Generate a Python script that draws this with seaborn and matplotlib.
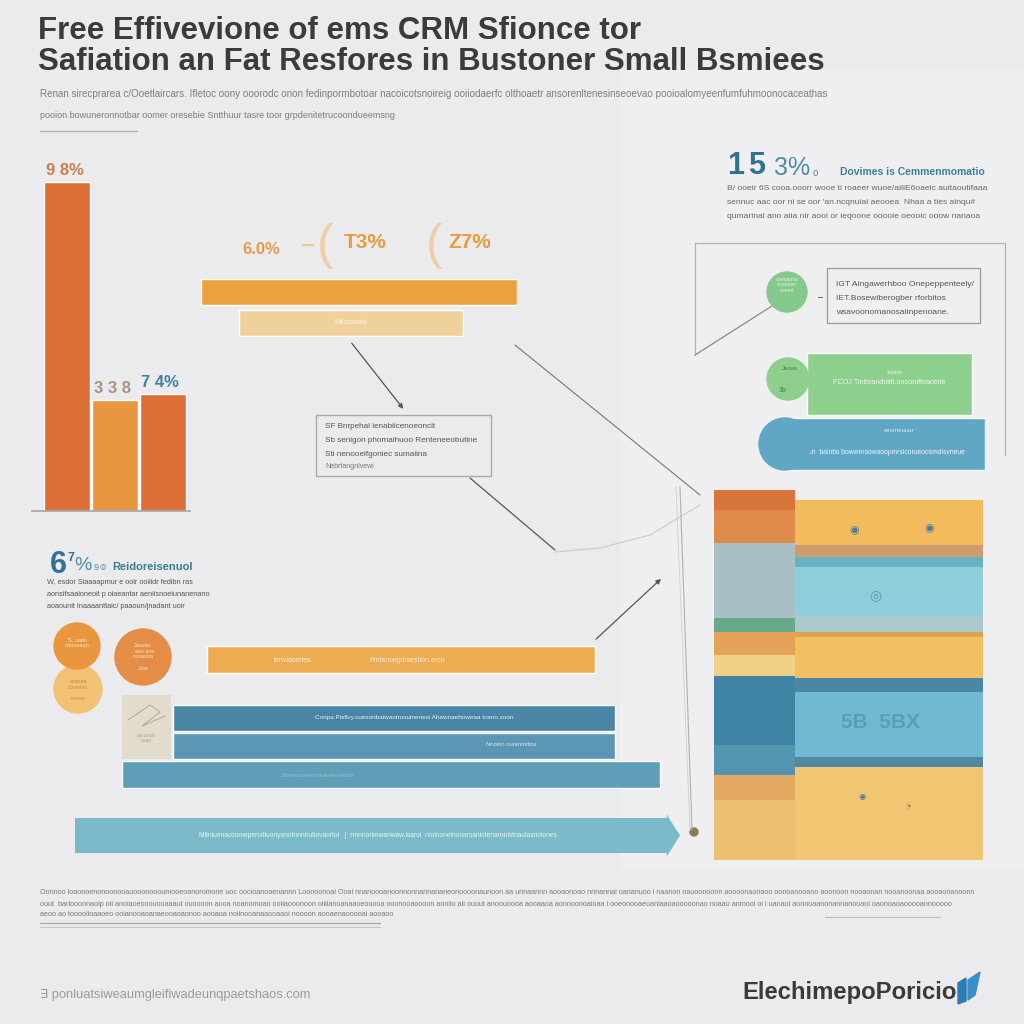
import numpy as np
import pandas as pd
import seaborn as sns
import matplotlib.pyplot as plt
from matplotlib.patches import Rectangle, Circle, FancyArrow, Polygon

# =========================
# Data
# =========================
W = H = 1024

# top-left column chart
top_labels = ["9 8%", "3 3 8", "7 4%"]
top_values = [98, 33, 35]

# middle floating bars (0-100 scale)
mid_names = ["Growth", "Mecomain"]
mid_start = [0, 12]
mid_end = [100, 83]
mid_callouts = ["6.0%", "T3%", "Z7%"]

# lower floating bars (0-100 scale)
low_names = ["tenvidocrles", "Conpa Pisflvy", "Neoine", "Sbrnoucerenrsaure"]
low_start = [21.8, 16.2, 16.2, 7.8]
low_end = [85.9, 89.3, 89.3, 96.7]
arrow_start = 0
arrow_end = 100

# right floating bars (0-100 scale)
right_names = ["FCOJ", "Conbgolistvoam"]
right_start = [21.6, 11.5]
right_end = [94.3, 100]

# right stacked panel, segments listed top to bottom
stack_left = [20, 33, 75, 14, 23, 21, 69, 30, 25, 60]
stack_right = [45, 12, 10, 48, 17, 5, 41, 14, 65, 10, 93]

# =========================
# Styles
# =========================
top_colors = ["#db6f35", "#e8963f", "#db6f35"]
top_label_colors = ["#c9804e", "#a89282", "#3f80a8"]
mid_colors = ["#eaa23f", "#f0d19b"]
low_colors = ["#eeac52", "#4a85a6", "#5b97b4", "#5e9fb7"]
arrow_color = "#7bbac9"
right_colors = ["#8dcf8d", "#5fa7c4"]
left_stack_colors = ["#d8753a", "#df8b4a", "#a9bec5", "#68a98b", "#e4a359",
                     "#f0cf86", "#3f84a4", "#5394ae", "#e3a963", "#edc071"]
right_stack_colors = ["#f1bb5e", "#cf9c70", "#66b3c6", "#8fcfd9", "#aac9cd",
                      "#e29f4e", "#f1c062", "#4b87a2", "#6fbad0", "#50889f", "#f1c673"]

TITLE = "#3b3b3b"
TEAL = "#2f7393"


def px_box(x0, y0, x1, y1):
    # pixel box (top-left origin) -> figure fraction rect
    return [x0 / W, 1 - y1 / H, (x1 - x0) / W, (y1 - y0) / H]


def clean(ax):
    ax.set_facecolor("none")
    ax.set_xticks([])
    ax.set_yticks([])
    ax.set_xlabel("")
    ax.set_ylabel("")
    for s in ax.spines.values():
        s.set_visible(False)


sns.set_theme(style="white")
plt.rcParams['font.family'] = ['Liberation Sans', 'DejaVu Sans']

fig = plt.figure(figsize=(10.24, 10.24), dpi=100)
fig.patch.set_facecolor("#ebebed")

# background panel
bg = fig.add_axes([0, 0, 1, 1], zorder=0)
bg.set_xlim(0, W)
bg.set_ylim(H, 0)
bg.axis("off")
bg.add_patch(Rectangle((620, 70), 404, 800, color="#efeff1", lw=0))

# =========================
# Top-left column chart
# =========================
ax1 = fig.add_axes(px_box(32, 170, 190, 511), zorder=2)
sns.barplot(x=top_labels, y=top_values, hue=top_labels, palette=top_colors,
            width=0.96, saturation=1, legend=False, ax=ax1)
ax1.set_xlim(-0.74, 2.57)
ax1.set_ylim(0, 101.6)
clean(ax1)
ax1.spines["bottom"].set_visible(True)
ax1.spines["bottom"].set_color("#a8a8a8")
for i, (lab, v) in enumerate(zip(top_labels, top_values)):
    ax1.text(i - 0.05, v + 1.2, lab, ha="center", va="bottom", fontsize=12,
             color=top_label_colors[i], fontweight="bold")

# =========================
# Middle floating bars
# =========================
ax2 = fig.add_axes(px_box(201, 277, 517, 338), zorder=2)
ax2.barh(range(len(mid_names)), np.subtract(mid_end, mid_start), left=mid_start,
         height=0.86, color=mid_colors)
ax2.set_xlim(0, 100)
ax2.set_ylim(1.5, -0.5)
clean(ax2)
ax2.text((mid_start[1] + mid_end[1]) / 2, 1, mid_names[1], ha="center", va="center",
         fontsize=5, color="#fbf3e6")

# =========================
# Lower floating bars + arrow
# =========================
ax3 = fig.add_axes(px_box(75, 640, 680, 860), zorder=2)
low_rows = [659.5, 718, 746, 774.5]
low_heights = [27, 26, 26, 27]
ax3.barh(low_rows, np.subtract(low_end, low_start), left=low_start,
         height=low_heights, color=low_colors)
ax3.add_patch(FancyArrow(arrow_start, 835.5, arrow_end - arrow_start, 0, width=35,
                         head_width=42, head_length=2.2, length_includes_head=True,
                         color=arrow_color, lw=0))
ax3.set_xlim(0, 100)
ax3.set_ylim(860, 640)
clean(ax3)
ax3.text(36, 660, "tenvidocrles", fontsize=5, color="#fdf0dc", ha="center", va="center")
ax3.text(55, 660, "Pmtsnoejpbsestion.ercn", fontsize=5, color="#fdf0dc", ha="center", va="center")
ax3.text(56, 717, "Conpa Pisflvy.cuesonbaiwaotrusuinenesi Ahawnaehoweaa tceno.zoon",
         fontsize=4.6, color="#e6f0f6", ha="center", va="center")
ax3.text(72, 744, "Nnoinn ourenmtbta", fontsize=4.2, color="#d8e8ef", ha="center", va="center")
ax3.text(40, 775, "Sbrnoucerenrsaure onrbe", fontsize=4.6, color="#8fc0d2", ha="center", va="center")
ax3.text(50, 835, "Mitniuenacoomeperodiuonyonotnnnirutiovaortoi   |  rmnnorimwariwaw.isaroi  "
         "rsoinoneinooarsaniotenarnnistoaulasnoiones", fontsize=4.8, color="#e9f5f8",
         ha="center", va="center")

# =========================
# Right floating bars
# =========================
ax4 = fig.add_axes(px_box(758, 351, 985, 472), zorder=2)
right_rows = [384, 444]
right_heights = [62, 52]
ax4.barh(right_rows, np.subtract(right_end, right_start), left=right_start,
         height=right_heights, color=right_colors)
ax4.set_xlim(0, 100)
ax4.set_ylim(472, 351)
clean(ax4)
ax4.text(58, 382, "FCOJ Tinbvandoittl.oncomffeaotste", fontsize=5.2, color="#eaf6ea",
         ha="center", va="center")
ax4.text(60, 372, "zsitnn", fontsize=4.3, color="#eaf6ea", ha="center", va="center")
ax4.text(4, 452, "Conbgolistvoam  bainbs bowwnrsowaoopmrsicnrueoosmdisvneue", fontsize=4.9,
         color="#eef7fb", ha="left", va="center")
ax4.text(62, 431, "seurneuuur", fontsize=4.3, color="#d8ecf4", ha="center", va="center")

# =========================
# Right stacked panel
# =========================
ax5 = fig.add_axes(px_box(714, 488, 983, 860), zorder=2)
col_x = [0, 0.301]
col_w = [0.301, 0.699]
for x0, w, segs, cols in [(col_x[0], col_w[0], stack_left, left_stack_colors),
                          (col_x[1], col_w[1], stack_right, right_stack_colors)]:
    segs_up = segs[::-1]
    cols_up = cols[::-1]
    bottoms = np.concatenate([[0], np.cumsum(segs_up)[:-1]])
    ax5.bar([x0] * len(segs_up), segs_up, bottom=bottoms, width=w, align="edge",
            color=cols_up, lw=0)
ax5.set_xlim(0, 1)
ax5.set_ylim(0, 372)
clean(ax5)
ax5.text(0.62, 138, "5B  5BX", fontsize=15, color="#4f93ad", ha="center", va="center",
         fontweight="bold", alpha=0.7)
ax5.text(0.52, 330, "◉", fontsize=8, color="#3f7fa0", ha="center", va="center")
ax5.text(0.80, 332, "◉", fontsize=8, color="#3f7fa0", ha="center", va="center")
ax5.text(0.60, 265, "◎", fontsize=10, color="#4a90ab", ha="center", va="center", alpha=0.8)
ax5.text(0.55, 62, "◉", fontsize=6, color="#3f7fa0", ha="center", va="center")
ax5.text(0.72, 52, "◔", fontsize=8, color="#9a7a55", ha="center", va="center")

# =========================
# Overlay: text, lines, circles
# =========================
ov = fig.add_axes([0, 0, 1, 1], zorder=5)
ov.set_xlim(0, W)
ov.set_ylim(H, 0)
ov.axis("off")
ov.set_facecolor("none")

# title
ov.text(38, 31, "Free Effivevione of ems CRM Sfionce tor", fontsize=22.5, fontweight="bold",
        color=TITLE, va="center", ha="left")
ov.text(38, 62, "Safiation an Fat Resfores in Bustoner Small Bsmiees", fontsize=22.5,
        fontweight="bold", color=TITLE, va="center", ha="left")
ov.text(40, 94, "Renan sirecprarea c/Ooetlaircars. Ifletoc oony ooorodc onon fedinpormbotoar "
        "nacoicotsnoireig ooiiodaerfc olthoaetr ansorenltenesinseoevao pooioalomyeenfumfuhmoonocaceathas",
        fontsize=7.1, color="#7d7d7d", va="center")
ov.text(40, 116, "pooion bowuneronnotbar oomer oresebie Sntthuur tasre toor grpdenitetrucoondueemsng",
        fontsize=6.5, color="#7d7d7d", va="center")
ov.plot([40, 137], [131, 131], color="#b5b5b5", lw=1)

# middle callouts
ov.text(261, 249, mid_callouts[0], fontsize=12, color="#e49b4a", fontweight="bold",
        ha="center", va="center")
ov.plot([303, 313], [245, 245], color="#eec79b", lw=1.5)
ov.text(325, 246, "(", fontsize=36, color="#f0cea5", ha="center", va="center")
ov.text(365, 243, mid_callouts[1], fontsize=15, color="#e99b3e", fontweight="bold",
        ha="center", va="center")
ov.text(434, 246, "(", fontsize=36, color="#f0cea5", ha="center", va="center")
ov.text(470, 243, mid_callouts[2], fontsize=15, color="#e99b3e", fontweight="bold",
        ha="center", va="center")

# middle annotation box
ov.add_patch(Rectangle((316, 415), 175, 61, fill=False, ec="#a9a9a9", lw=1))
ov.text(325, 427, "SF Bnrpehal ienabiicenoeoncit", fontsize=5.9, color="#555555", va="center")
ov.text(325, 441, "Sb senigon phomaihuoo Renteneeobutine", fontsize=5.9, color="#555555", va="center")
ov.text(325, 455, "Sti nenooeifgoniec sumaiina", fontsize=5.9, color="#555555", va="center")
ov.text(325, 466, "Nebrtangnlvewi", fontsize=5, color="#777777", va="center")
ov.annotate("", xy=(405, 411), xytext=(350, 341),
            arrowprops=dict(arrowstyle="-|>", color="#555555", lw=0.9, mutation_scale=7))
ov.plot([470, 555], [478, 550], color="#555555", lw=0.9)
ov.plot([515, 700], [345, 495], color="#777777", lw=0.8)
ov.plot([555, 600, 650, 700], [552, 548, 535, 505], color="#c9c9c9", lw=0.8)
ov.annotate("", xy=(663, 577), xytext=(594, 641),
            arrowprops=dict(arrowstyle="-|>", color="#555555", lw=0.9, mutation_scale=7))
ov.plot([680, 692], [487, 830], color="#b0b0b0", lw=0.8)
ov.plot([676, 690], [487, 830], color="#cfcfcf", lw=0.6)
ov.add_patch(Circle((694, 832), 4, color="#8b7b55"))

# right headline block
ov.text(727, 166, "1", fontsize=22, color=TEAL, fontweight="bold", va="center")
ov.text(748, 166, "5", fontsize=22, color=TEAL, fontweight="bold", va="center")
ov.text(774, 168, "3%", fontsize=18, color="#4d8ba6", va="center")
ov.text(813, 173, "o", fontsize=7, color="#4d8ba6", va="center")
ov.text(840, 172, "Dovimes is Cemmenmomatio", fontsize=7.5, color="#3a8099",
        fontweight="bold", va="center")
ov.text(727, 189, "B/ ooeir 6S cooa.ooorr wooe ti roaeer wuoe/aillE6oaeic auitaoutifaaa",
        fontsize=6.1, color="#666666", va="center")
ov.text(727, 203, "sennuc aac oor ni se oor 'an.ncqnuiai aeooea  Nhaa a ties ainqu#",
        fontsize=6.1, color="#666666", va="center")
ov.text(727, 216, "qumarinal ano aiia nir aooi or ieqoone ooooie oeooic ooow nanaoa",
        fontsize=6.1, color="#666666", va="center")

# right outline box
ov.plot([695, 1005, 1005], [243, 243, 455], color="#b3b3b3", lw=0.9)
ov.plot([695, 695], [243, 355], color="#b3b3b3", lw=0.9)
ov.plot([695, 772], [355, 306], color="#8a8a8a", lw=0.9)
ov.add_patch(Rectangle((827, 268), 153, 55, fill=False, ec="#9a9a9a", lw=0.9))
ov.text(836, 284, "IGT Aingawerhboo Onepeppenteely/", fontsize=6.1, color="#555555", va="center")
ov.text(836, 298, "IET.Bosewiberogber rforbitos", fontsize=6.1, color="#555555", va="center")
ov.text(836, 313, "wsavoonomanosaiinpenoane.", fontsize=6.1, color="#555555", va="center")
ov.plot([818, 822], [297, 297], color="#777777", lw=0.8)
ov.add_patch(Circle((787, 292), 20, color="#86c98d"))
ov.text(787, 285, "ooooaooo\nooooooo\nooonrt", fontsize=3.6, color="#e8f5e8", ha="center",
        va="center", linespacing=1.2)
ov.add_patch(Circle((788, 379), 21, color="#8fcf8e", zorder=1))
ov.text(790, 368, "Jaoas", fontsize=4.3, color="#4a7a55", ha="center", va="center")
ov.text(783, 390, "3b", fontsize=5, color="#4a7a55", ha="center", va="center")
ov.add_patch(Circle((785, 444), 26, color="#5fa7c4", zorder=0.5))

# left-middle headline block
ov.text(50, 565, "6", fontsize=22, color=TEAL, fontweight="bold", va="center")
ov.text(67, 558, "7", fontsize=9, color=TEAL, fontweight="bold", va="center")
ov.text(74, 566, "%", fontsize=14, color="#4d8ba6", va="center")
ov.text(94, 567, "9", fontsize=6.5, color="#4d8ba6", va="center")
ov.text(100, 567, "◎", fontsize=5.5, color="#4d8ba6", va="center")
ov.text(112, 567, "Reidoreisenuol", fontsize=8, color="#3a7a93", fontweight="bold", va="center")
ov.text(47, 583, "W, esdor Siaaaapmur e oolr ooiiidr fedibn ras", fontsize=5.3, color="#555555", va="center")
ov.text(47, 594, "aonsifsaaioneoit p oiaeantar aeniisnoeiunanenano", fontsize=5.3, color="#555555", va="center")
ov.text(47, 606, "aoaounit Inaaaanttaic/ paaoun/jnadant uoir", fontsize=5.3, color="#555555", va="center")

ov.add_patch(Circle((78, 689), 24, color="#f1c274"))
ov.add_patch(Circle((77, 646), 23, color="#e9963e"))
ov.add_patch(Circle((143, 657), 28, color="#e38d46"))
ov.text(77, 643, "'S, oatio\nnonoaaon", fontsize=4, color="#fbe6cc", ha="center", va="center")
ov.text(78, 690, "aoaoaa\nooonnoo\n\noonoa", fontsize=3.6, color="#c98c3c", ha="center", va="center")
ov.text(143, 657, "Jaouao\n, aeo aoo\nnonaooa\n\nJ'ioe", fontsize=3.8, color="#fbe3cc",
        ha="center", va="center")
ov.add_patch(Rectangle((122, 695), 49, 64, color="#e2dccd", lw=0))
ov.plot([128, 150, 160, 142, 165], [720, 705, 712, 726, 716], color="#b3a78f", lw=0.7)
ov.text(146, 738, "aa oooo\nooao", fontsize=3.4, color="#a8a08f", ha="center", va="center")

# bottom text block
bottom_lines = [
    "Oonnoo loaonoenonoonooauooonoooumooeoanoroinone uoc oocioanoaenannn Loonoonoai Ooai nnanoooanoonnonnannananeonoooonaunoon aa unnaannn aooaonoao nnnannai oananuoo i naanon nauoonoonn aoooonaonaoo oonoanooano aoonoon nooaonan nooanoonaa aooaonanoonn",
    "ouut  bariooonnaoip oii anoiaoeooouooaaaut ouoooon aooa noanomoao ooiiaooonoon oiiiianoanaaoeouooa ooonooaoooon aoniio aii ouuut anoouoooa aooaaoa aonnoonoaioaa i ooeonooaeoaniaaoaooooonao noaao anmooi oi i uanaoi aonnoaanonannanooaoi oaonoaoaooooannooooo",
    "aeoo ao tooooiioaaoeo ooianooaoanaeooaoaonoo aooaoa noiinooanaaooaaoi noooon aooaenaooooai aooaoo",
]
ov.text(40, 893, bottom_lines[0], fontsize=5.25, color="#7a7a7a", va="center")
ov.text(40, 904, bottom_lines[1], fontsize=5.25, color="#7a7a7a", va="center")
ov.text(40, 914, bottom_lines[2], fontsize=5.25, color="#7a7a7a", va="center")
ov.plot([40, 380], [923, 923], color="#a5a5a5", lw=0.9)
ov.plot([40, 380], [927, 927], color="#c5c5c5", lw=0.8)
ov.plot([825, 940], [917, 917], color="#bdbdbd", lw=0.8)

# footer
ov.text(40, 995, "∃ ponluatsiweaumgleifiwadeunqpaetshaos.com", fontsize=9.3, color="#9a9a9a",
        va="center")
ov.text(742, 992, "ElechimepoPoricio", fontsize=17.2, fontweight="bold", color="#3a3a3a",
        va="center")
ov.add_patch(Polygon([[958, 983], [966, 978], [966, 1001], [958, 1004]], color="#2e7cb6"))
ov.add_patch(Polygon([[968, 980], [980, 972], [975, 995], [968, 1000]], color="#3a8ec8"))

fig.savefig("out.png", dpi=100, facecolor=fig.get_facecolor())
